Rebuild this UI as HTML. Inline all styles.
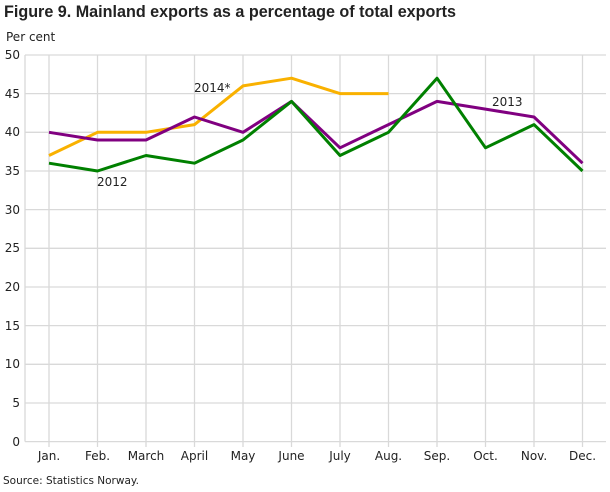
<!DOCTYPE html>
<html><head><style>
body{margin:0;background:#fff;font-family:"DejaVu Sans","Liberation Sans",sans-serif;}
</style></head><body>
<svg width="610" height="488" xmlns="http://www.w3.org/2000/svg" font-family="DejaVu Sans, Liberation Sans, sans-serif">
<text x="4" y="17" font-size="16.5" font-weight="bold" fill="#222" font-family="Liberation Sans, sans-serif" textLength="452" lengthAdjust="spacingAndGlyphs">Figure 9. Mainland exports as a percentage of total exports</text>
<text x="6" y="41" font-size="12" fill="#222">Per cent</text>
<g stroke="#d9d9d9" stroke-width="1.3">
<line x1="25" x2="606" y1="55" y2="55"/><line x1="25" x2="606" y1="93.6" y2="93.6"/><line x1="25" x2="606" y1="132.3" y2="132.3"/><line x1="25" x2="606" y1="171" y2="171"/><line x1="25" x2="606" y1="209.6" y2="209.6"/><line x1="25" x2="606" y1="248.3" y2="248.3"/><line x1="25" x2="606" y1="287" y2="287"/><line x1="25" x2="606" y1="325.6" y2="325.6"/><line x1="25" x2="606" y1="364.3" y2="364.3"/><line x1="25" x2="606" y1="403" y2="403"/><line x1="25" x2="606" y1="441.6" y2="441.6"/>
<line x1="25" x2="25" y1="55" y2="441.6"/>
<line x1="49" x2="49" y1="55" y2="447"/><line x1="97.5" x2="97.5" y1="55" y2="447"/><line x1="146" x2="146" y1="55" y2="447"/><line x1="194.5" x2="194.5" y1="55" y2="447"/><line x1="243" x2="243" y1="55" y2="447"/><line x1="291.5" x2="291.5" y1="55" y2="447"/><line x1="340" x2="340" y1="55" y2="447"/><line x1="388.5" x2="388.5" y1="55" y2="447"/><line x1="437" x2="437" y1="55" y2="447"/><line x1="485.5" x2="485.5" y1="55" y2="447"/><line x1="534" x2="534" y1="55" y2="447"/><line x1="582.5" x2="582.5" y1="55" y2="447"/>
</g>
<g font-size="12" fill="#222" text-anchor="end">
<text x="20" y="59">50</text><text x="20" y="98">45</text><text x="20" y="136">40</text><text x="20" y="175">35</text><text x="20" y="214">30</text><text x="20" y="252">25</text><text x="20" y="291">20</text><text x="20" y="330">15</text><text x="20" y="368">10</text><text x="20" y="407">5</text><text x="20" y="446">0</text>
</g>
<g font-size="12" fill="#222" text-anchor="middle">
<text x="49" y="460">Jan.</text><text x="97.5" y="460">Feb.</text><text x="146" y="460">March</text><text x="194.5" y="460">April</text><text x="243" y="460">May</text><text x="291.5" y="460">June</text><text x="340" y="460">July</text><text x="388.5" y="460">Aug.</text><text x="437" y="460">Sep.</text><text x="485.5" y="460">Oct.</text><text x="534" y="460">Nov.</text><text x="582.5" y="460">Dec.</text>
</g>
<text x="3" y="484" font-size="10.5" fill="#222">Source: Statistics Norway.</text>
<g fill="none" stroke-width="3" stroke-linejoin="round">
<polyline stroke="#f9b100" points="49,155.5 97.5,132.3 146,132.3 194.5,124.6 243,85.9 291.5,78.2 340,93.6 388.5,93.6"/>
<polyline stroke="#800080" points="49,132.3 97.5,140 146,140 194.5,117 243,132.3 291.5,101.4 340,147.8 388.5,124.6 437,101.4 485.5,109.1 534,117 582.5,163.2"/>
<polyline stroke="#008000" points="49,163.2 97.5,171 146,155.5 194.5,163.2 243,140 291.5,101.4 340,155.5 388.5,132.3 437,78.2 485.5,147.8 534,124.6 582.5,171"/>
</g>
<g font-size="12" fill="#222">
<text x="194" y="92">2014*</text><text x="97" y="186">2012</text><text x="492" y="106">2013</text>
</g>
</svg>
</body></html>
